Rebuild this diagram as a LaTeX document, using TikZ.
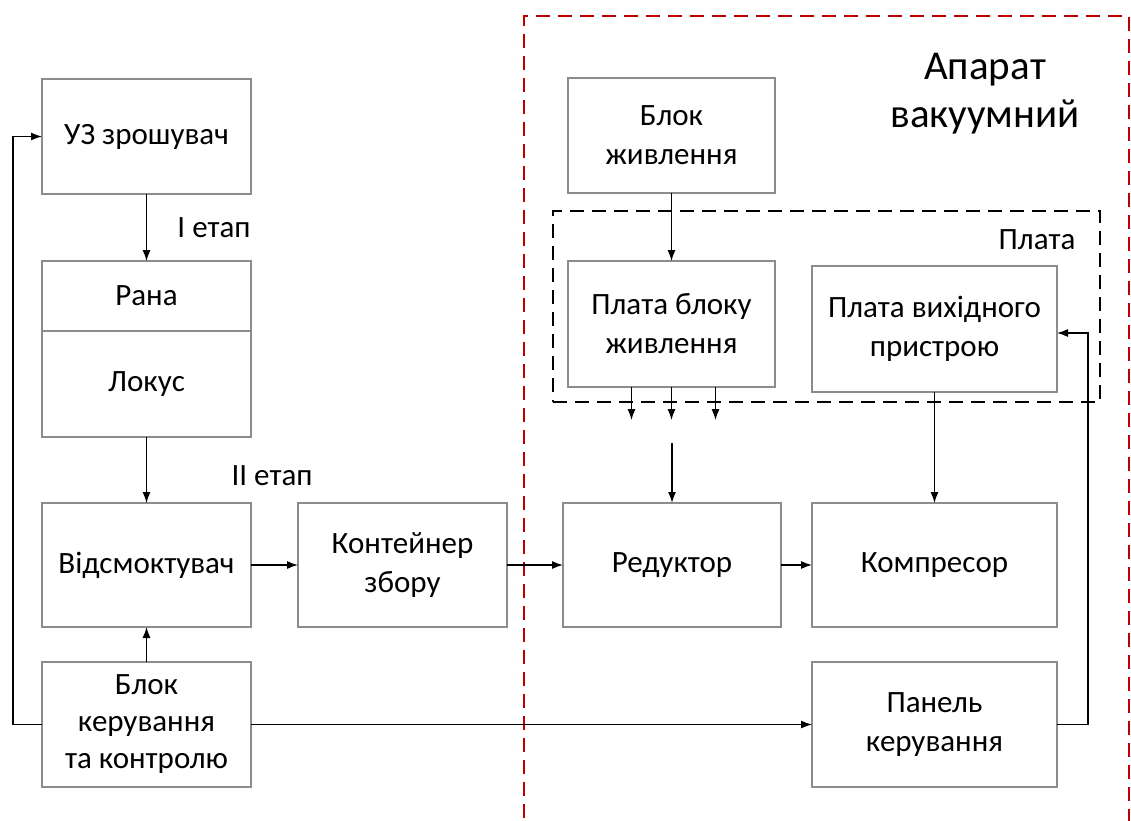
\documentclass[tikz,border=0pt]{standalone}
\usepackage{fontspec}
\setmainfont{Carlito}
\usetikzlibrary{arrows.meta}
\definecolor{boxgray}{HTML}{8C8C8C}
\definecolor{dred}{HTML}{C00000}
\begin{document}
\begin{tikzpicture}[x=1pt,y=-1pt,
  blk/.style={draw=boxgray,line width=1.1pt,fill=white,inner sep=0pt,outer sep=0pt,
    align=center,font=\fontsize{31}{39}\selectfont},
  arr/.style={-{Latex[length=11pt,width=8pt]},line width=1.2pt},
  lbl/.style={font=\fontsize{31}{39}\selectfont,inner sep=0pt}]
\useasboundingbox (0,0) rectangle (1131,820);
% red frame
\draw[dred,line width=2.5pt,dash pattern=on 14pt off 8pt] (524,840) -- (524,16) -- (1129,16) -- (1129,840);
\node[lbl,font=\fontsize{41}{48}\selectfont,align=center] (title) at (985,94) {Апарат\\вакуумний};
% plata dashed
\node[draw,line width=2.5pt,dash pattern=on 14pt off 8pt,minimum width=547pt,minimum height=191pt,inner sep=0pt] (plata) at (826.5,306.5) {};
\node[lbl] (platalbl) at (1037,240) {Плата};
% boxes
\node[blk,minimum width=209pt,minimum height=115pt] (uz) at (146.5,136.5) {УЗ зрошувач};
\node[blk,minimum width=209pt,minimum height=70pt] (rana) at (146.5,296) {Рана};
\node[blk,minimum width=209pt,minimum height=106pt] (lokus) at (146.5,384) {Локус};
\node[blk,minimum width=209pt,minimum height=124pt] (vids) at (146.5,565) {Відсмоктувач};
\node[blk,minimum width=209pt,minimum height=125pt,font=\fontsize{31}{37}\selectfont] (bkk) at (146.5,724.5) {Блок\\керування\\та контролю};
\node[blk,minimum width=209pt,minimum height=124pt] (kont) at (402.5,565) {Контейнер\\збору};
\node[blk,minimum width=218pt,minimum height=124pt] (red) at (672,565) {Редуктор};
\node[blk,minimum width=245pt,minimum height=124pt] (komp) at (934.5,565) {Компресор};
\node[blk,minimum width=245pt,minimum height=125pt] (pan) at (934.5,724.5) {Панель\\керування};
\node[blk,minimum width=207pt,minimum height=115pt] (bzh) at (671.5,135.5) {Блок\\живлення};
\node[blk,minimum width=207pt,minimum height=126pt] (pbz) at (671.5,324) {Плата блоку\\живлення};
\node[blk,minimum width=245pt,minimum height=126pt] (pvp) at (934.5,329) {Плата вихідного\\пристрою};
% stage labels
\node[lbl] (et1) at (214,228) {І етап};
\node[lbl] (et2) at (272,476) {ІІ етап};
% connectors
\draw[arr] (uz.south) -- (rana.north);
\draw[arr] (lokus.south) -- (vids.north);
\draw[arr] (bkk.north) -- (vids.south);
\draw[arr] (vids.east) -- (kont.west);
\draw[arr] (kont.east) -- (red.west);
\draw[arr] (red.east) -- (komp.west);
\draw[arr] (bkk.east) -- (pan.west);
\draw[arr] (bkk.west) -- ++(-29,0) |- (uz.west);
\draw[arr] (pan.east) -- ++(31,0) |- ([yshift=-4pt]pvp.east);
\draw[arr] (bzh.south) -- (pbz.north);
\draw[arr] (pvp.south) -- (komp.north);
\coordinate (o1) at ([xshift=-40pt,yshift=-33pt]pbz.south);
\coordinate (o2) at ([yshift=-33pt]pbz.south);
\coordinate (o3) at ([xshift=44pt,yshift=-33pt]pbz.south);
\draw[arr] ([xshift=-40pt]pbz.south) -- (o1);
\draw[arr] (pbz.south) -- (o2);
\draw[arr] ([xshift=44pt]pbz.south) -- (o3);
\coordinate (rin) at (672,443);
\draw[arr,line width=1.7pt] (rin) -- (red.north);
\end{tikzpicture}
\end{document}
